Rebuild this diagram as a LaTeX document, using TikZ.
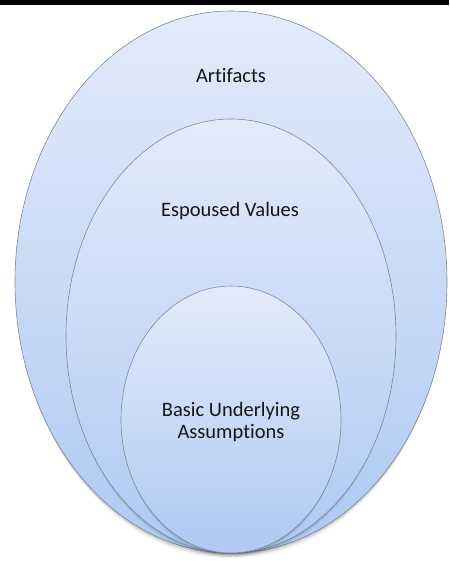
\documentclass[tikz,border=0pt]{standalone}
\usepackage{fontspec}
\setmainfont{Carlito}[Ligatures={NoCommon,NoRequired,NoContextual}]
\definecolor{toplight}{HTML}{E2EBFA}
\definecolor{botdark}{HTML}{AFC9F3}
\definecolor{edgegray}{HTML}{7F8A98}
\definecolor{txt}{HTML}{151515}
\begin{document}
\begin{tikzpicture}[x=1pt,y=-1pt,
  layer/.style={top color=toplight,bottom color=botdark,draw=edgegray,line width=0.6pt},
  lbl/.style={font=\fontsize{20.5}{24}\selectfont,text=txt,align=center}]
\useasboundingbox (0,0) rectangle (449,561);
\fill[white] (0,0) rectangle (449,561);
\fill[black] (0,0) rectangle (449,5.5);
% shadows
\foreach \d/\o in {1/0.10,2.5/0.08,4/0.06,5.5/0.04}{
  \fill[black,opacity=\o] (231,282+\d) ellipse [x radius=216-\d*0.3, y radius=271];
}
% outer
\path[layer] (231,282) ellipse [x radius=216, y radius=271];
\foreach \d/\o in {1/0.10,2.5/0.07,4/0.04}{
  \fill[black,opacity=\o] (231,336+\d) ellipse [x radius=165-\d*0.3, y radius=217];
}
\path[layer] (231,336) ellipse [x radius=165, y radius=217];
\foreach \d/\o in {1/0.10,2.5/0.07,4/0.04}{
  \fill[black,opacity=\o] (231,419.5+\d) ellipse [x radius=110-\d*0.3, y radius=133.5];
}
\path[layer] (231,419.5) ellipse [x radius=110, y radius=133.5];
\node[lbl] (art) at (231,76) {Artifacts};
\node[lbl] (esp) at (230,211) {Espoused Values};
\node[lbl] (bua) at (231,422) {Basic Underlying\\[-2pt]Assumptions};
\end{tikzpicture}
\end{document}
